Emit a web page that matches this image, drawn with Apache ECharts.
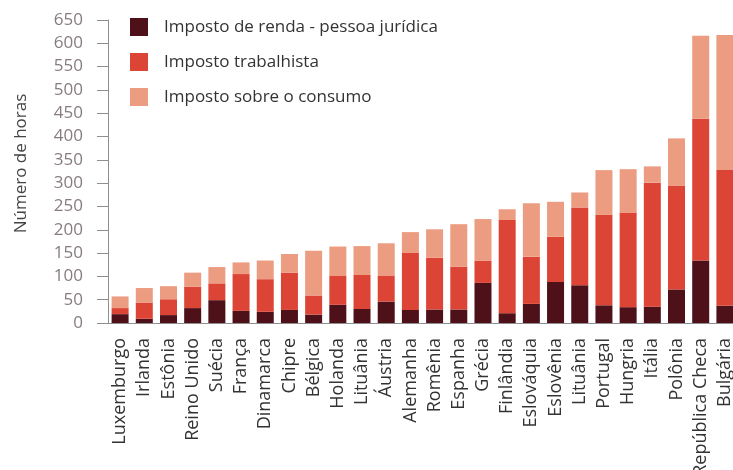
<!DOCTYPE html>
<html>
<head>
<meta charset="utf-8">
<script src="https://cdn.jsdelivr.net/npm/echarts@6/dist/echarts.min.js"></script>
<style>
  html, body { margin: 0; padding: 0; background: #fff; }
  #chart { width: 733px; height: 470px; }
</style>
</head>
<body>
<div id="chart"></div>
<script>
// Horas gastas por ano para pagar impostos, por país
const paises = [
  'Luxemburgo', 'Irlanda', 'Estônia', 'Reino Unido', 'Suécia', 'França',
  'Dinamarca', 'Chipre', 'Bélgica', 'Holanda', 'Lituânia', 'Áustria',
  'Alemanha', 'Romênia', 'Espanha', 'Grécia', 'Finlândia', 'Eslováquia',
  'Eslovênia', 'Lituânia', 'Portugal', 'Hungria', 'Itália', 'Polônia',
  'República Checa', 'Bulgária'
];

const impostoRenda = [19, 9, 17, 32, 49, 26, 24, 28, 18, 39, 30, 46, 28, 29, 29, 86, 21, 41, 88, 81, 38, 34, 35, 72, 134, 37];
const impostoTrabalhista = [13, 35, 34, 46, 36, 79, 70, 80, 41, 63, 73, 56, 123, 111, 92, 48, 200, 101, 97, 167, 194, 203, 266, 223, 304, 291];
const impostoConsumo = [25, 31, 28, 30, 35, 25, 40, 40, 96, 62, 62, 69, 44, 61, 91, 89, 23, 115, 75, 32, 96, 93, 35, 101, 178, 290];

const nomesSeries = ['Imposto de renda - pessoa jurídica', 'Imposto trabalhista', 'Imposto sobre o consumo'];
const coresSeries = ['#4e1019', '#dc4536', '#ec9c80'];

const eixoY = { min: 0, max: 650, intervalo: 50 };

const chart = echarts.init(document.getElementById('chart'), null, { renderer: 'canvas' });

const valores = [impostoRenda, impostoTrabalhista, impostoConsumo];

chart.setOption({
  animation: false,
  backgroundColor: '#ffffff',
  textStyle: { fontFamily: 'Open Sans' },
  legend: {
    orient: 'vertical',
    left: 130,
    top: 18,
    padding: 0,
    itemWidth: 18,
    itemHeight: 18,
    itemGap: 17,
    icon: 'rect',
    selectedMode: false,
    textStyle: { fontSize: 17, color: '#333333', padding: [0, 0, 0, 11], fontFamily: 'Open Sans' },
    data: nomesSeries
  },
  grid: {
    left: 108, top: 20, right: -4, bottom: 147,
    containLabel: false,
    outerBoundsMode: 'none'
  },
  xAxis: {
    type: 'category',
    data: paises,
    axisLine: { show: true, lineStyle: { color: '#8f8f8f', width: 1 } },
    axisTick: { show: false },
    axisLabel: {
      rotate: 90,
      interval: 0,
      margin: 15,
      fontSize: 18,
      color: '#333333',
      fontFamily: 'Open Sans'
    }
  },
  yAxis: {
    type: 'value',
    min: eixoY.min,
    max: eixoY.max,
    interval: eixoY.intervalo,
    name: 'Número de horas',
    nameLocation: 'middle',
    nameGap: 78,
    nameTextStyle: { fontSize: 17, color: '#444444', fontFamily: 'Open Sans', padding: [0, 0, 0, 16] },
    axisLine: { show: true, lineStyle: { color: '#8f8f8f', width: 1 } },
    axisTick: { show: true, inside: false, length: 11, lineStyle: { color: '#8f8f8f' } },
    axisLabel: { margin: 25, fontSize: 17, color: '#877b82', fontFamily: 'Open Sans' },
    splitLine: { show: false }
  },
  series: nomesSeries.map((nome, i) => ({
    name: nome,
    type: 'bar',
    stack: 'total',
    barWidth: 17,
    itemStyle: { color: coresSeries[i] },
    data: valores[i]
  }))
});
</script>
</body>
</html>
